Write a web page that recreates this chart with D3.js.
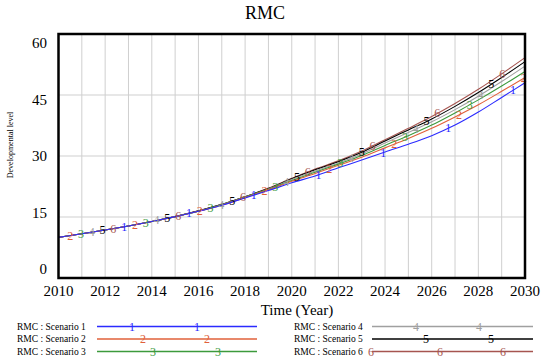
<!DOCTYPE html>
<html><head><meta charset="utf-8">
<script src="https://cdn.jsdelivr.net/npm/d3@7/dist/d3.min.js"></script>
<style>body{margin:0;background:#fff}svg{display:block}text{font-family:"Liberation Serif","Times New Roman",serif}</style>
</head><body>
<script>
const years = [2010,2011,2012,2013,2014,2015,2016,2017,2018,2019,2020,2021,2022,2023,2024,2025,2026,2027,2028,2029,2030];
const scenario1 = [10.0,10.9,11.8,12.8,13.9,15.1,16.4,17.9,19.7,21.5,23.4,25.1,27.1,29.0,31.0,32.9,35.0,37.6,40.8,44.4,48.0];
const scenario2 = [10.0,10.9,11.8,12.8,13.9,15.1,16.4,17.9,19.8,21.7,23.8,25.7,27.7,29.7,32.0,34.3,36.8,39.6,42.6,45.9,49.3];
const scenario3 = [10.0,10.9,11.8,12.8,13.9,15.1,16.4,18.0,19.9,21.8,24.0,26.0,28.0,30.1,32.6,35.0,37.6,40.6,43.8,47.2,50.8];
const scenario4 = [10.0,10.9,11.8,12.8,13.9,15.1,16.4,18.0,19.9,21.9,24.2,26.3,28.3,30.5,33.2,35.8,38.4,41.4,44.7,48.3,52.1];
const scenario5 = [10.0,10.9,11.8,12.8,13.9,15.1,16.5,18.1,20.0,22.0,24.4,26.6,28.6,30.9,33.7,36.4,39.1,42.2,45.6,49.3,53.2];
const scenario6 = [10.0,10.9,11.8,12.8,13.9,15.1,16.5,18.1,20.0,22.1,24.5,26.8,28.8,31.2,34.0,36.8,39.7,42.9,46.4,50.2,54.2];
const seriesNames = ["RMC : Scenario 1","RMC : Scenario 2","RMC : Scenario 3","RMC : Scenario 4","RMC : Scenario 5","RMC : Scenario 6"];
const seriesValues = [scenario1,scenario2,scenario3,scenario4,scenario5,scenario6];
const markerLabels = ["1","2","3","4","5","6"];
const yTicks = [0,15,30,45,60];
const xTicks = [2010,2012,2014,2016,2018,2020,2022,2024,2026,2028,2030];
const title = "RMC";
const xTitle = "Time (Year)";
const yTitle = "Developmental level";

const colors = ["#2b2bff","#e0603a","#3c9a3c","#a0a0a0","#000000","#a65550"];
const W = 550, H = 361;
const L = 58.5, R = 525, T = 34, B = 278;

const svg = d3.select("body").append("svg").attr("width",W).attr("height",H);
const x = d3.scaleLinear().domain([2010,2030]).range([L,R]);
const y = d3.scaleLinear().domain([0,60]).range([B,T]);
const yLab = d3.scaleLinear().domain([0,60]).range([269,43]);

// grid
const g = svg.append("g");
g.selectAll("line.v").data(d3.range(2011,2030)).join("line")
  .attr("x1",d=>x(d)).attr("x2",d=>x(d)).attr("y1",T).attr("y2",B)
  .attr("stroke","#cfcfcf").attr("stroke-width",1);
g.selectAll("line.h").data([15,30,45]).join("line")
  .attr("x1",L).attr("x2",R).attr("y1",d=>y(d)).attr("y2",d=>y(d))
  .attr("stroke","#cfcfcf").attr("stroke-width",1);

// lines
const line = d3.line().x((d,i)=>x(years[i])).y(d=>y(d)).curve(d3.curveMonotoneX);
const order = [5,4,3,2,1,0];
order.forEach(si=>{
  svg.append("path").attr("d",line(seriesValues[si])).attr("fill","none")
    .attr("stroke",colors[si]).attr("stroke-width",1.1);
});
// markers along lines
const dt = 0.463;
const marks = [];
for(let k=0;k<=42;k++){
  const t = 2010.5 + k*dt;
  if(t>2030) break;
  const si = (k+1)%6;
  marks.push({t,si});
}
marks.forEach(m=>{
  const interp = d3.scaleLinear().domain(years).range(seriesValues[m.si]);
  svg.append("text").attr("x",x(m.t)).attr("y",y(interp(m.t)))
    .attr("text-anchor","middle").attr("dominant-baseline","central")
    .attr("font-size",12).attr("fill",colors[m.si]).text(markerLabels[m.si]);
});

// frame
svg.append("rect").attr("x",L).attr("y",T).attr("width",R-L).attr("height",B-T)
  .attr("fill","none").attr("stroke","#000").attr("stroke-width",2.5);

// axis labels
svg.selectAll("text.yt").data(yTicks).join("text")
  .attr("x",47).attr("y",d=>yLab(d)).attr("text-anchor","end").attr("dominant-baseline","central")
  .attr("font-size",15).text(d=>d);
svg.selectAll("text.xt").data(xTicks).join("text")
  .attr("x",d=>x(d)).attr("y",296).attr("text-anchor","middle")
  .attr("font-size",15).text(d=>d);

svg.append("text").attr("x",265).attr("y",19).attr("text-anchor","middle").attr("font-size",18).text(title);
svg.append("text").attr("x",297).attr("y",315).attr("text-anchor","middle").attr("font-size",15).text(xTitle);
svg.append("text").attr("transform","translate(13,145) rotate(-90)").attr("text-anchor","middle")
  .attr("font-size",8).text(yTitle);

// legend
const legRows = [326.5,339,351.5];
const legCols = [{tx:17,l1:97,l2:257},{tx:294,l1:372,l2:533}];
const legMarks = [[132,197],[143,207],[153,218],[416,479],[426,491],[371,440,503]];
seriesNames.forEach((name,i)=>{
  const c = legCols[Math.floor(i/3)], yy = legRows[i%3];
  svg.append("text").attr("x",c.tx).attr("y",yy+3.3).attr("font-size",9.5).text(name);
  svg.append("line").attr("x1",c.l1).attr("x2",c.l2).attr("y1",yy).attr("y2",yy)
    .attr("stroke",colors[i]).attr("stroke-width",1.3);
  legMarks[i].forEach(mx=>{
    svg.append("text").attr("x",mx).attr("y",yy).attr("text-anchor","middle")
      .attr("dominant-baseline","central").attr("font-size",12).attr("fill",colors[i]).text(markerLabels[i]);
  });
});
</script>
</body></html>
